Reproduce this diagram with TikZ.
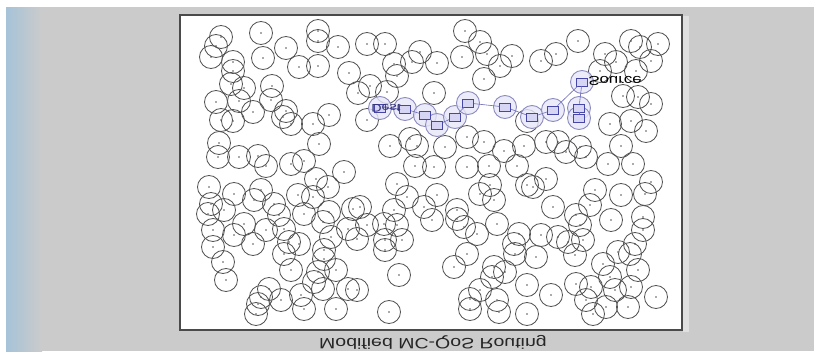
\documentclass[tikz,border=0pt]{standalone}
\usepackage{fontspec}
\setmainfont{Liberation Sans}
\definecolor{bggray}{HTML}{CBCBCB}
\definecolor{framec}{HTML}{4A4A4A}
\definecolor{sensc}{HTML}{555555}
\definecolor{routec}{HTML}{8C8CC0}
\definecolor{routefill}{HTML}{E6E6F8}
\definecolor{sqc}{HTML}{4646A8}
\definecolor{sqfill}{HTML}{D6D6F4}
\definecolor{stripblue}{HTML}{A6C3D8}
\tikzset{
  sensor/.style={circle,draw=sensc,line width=0.85pt,minimum size=23pt,inner sep=0pt},
  routecirc/.style={circle,draw=routec,fill=routefill,fill opacity=0.8,line width=0.9pt,minimum size=23pt,inner sep=0pt},
  sq/.style={rectangle,draw=sqc,fill=sqfill,line width=0.7pt,minimum width=11pt,minimum height=8pt,inner sep=0pt},
  link/.style={draw=sqc!80,line width=0.6pt},
  fliptext/.style={yscale=-1,xscale=1.3,inner sep=0pt}
}
\begin{document}
\begin{tikzpicture}[x=1pt,y=-1pt]
\useasboundingbox (0,0) rectangle (814,351);
% background
\fill[bggray] (0,0) rectangle (814,351);
\fill[white] (0,0) rectangle (814,7);
\fill[white] (0,0) rectangle (6,351);
\shade[left color=stripblue,right color=bggray] (6,7) rectangle (42,351);
\fill[white!40!bggray] (683,16) rectangle (689,332);
% frame
\draw[fill=white,draw=framec,line width=1.3pt] (180,15) rectangle (682,330);
% sensor nodes
\foreach \x/\y [count=\i] in {
221/37,261/33,216/46,318/31,318/41,338/47,286/48,211/57,233/62,263/58,
233/71,299/67,318/66,349/73,231/84,244/88,272/86,216/102,239/101,271/100,
253/112,286/111,283/117,221/120,233/121,291/124,313/124,329/115,219/143,319/144,
218/157,239/157,258/156,266/166,291/164,304/161,344/172,358/93,
385/44,367/44,465/31,480/42,420/52,394/64,412/62,437/63,462/57,487/54,
512/56,500/66,484/79,397/76,370/86,387/92,434/93,367/120,410/139,390/146,
417/146,445/147,467/137,484/142,504/151,524/146,415/166,434/167,467/167,489/166,
517/166,527/121,
578/41,556/54,541/61,605/54,616/62,631/41,640/47,658/44,651/61,636/71,
600/71,623/96,638/97,651/104,610/124,631/121,646/131,621/146,546/142,558/142,
566/152,580/147,586/157,608/164,633/164,
209/187,234/194,261/190,254/200,274/204,211/204,224/210,208/214,279/215,304/214,
298/195,313/197,316/179,328/187,329/212,323/222,353/209,244/224,266/230,213/230,
234/235,253/244,284/229,289/242,299/244,331/237,348/229,213/247,223/262,284/254,
324/250,324/259,291/270,318/272,336/270,226/280,314/282,269/289,261/297,281/300,
301/295,323/289,348/289,256/314,258/304,304/309,336/309,
397/184,407/197,437/195,360/207,394/210,424/207,457/210,480/194,494/200,490/185,
527/185,432/220,367/225,384/224,397/225,457/219,464/227,477/234,497/224,519/234,
357/239,385/240,402/240,385/250,514/244,515/254,467/254,454/267,494/267,505/272,
492/277,399/275,357/290,480/290,470/299,497/300,470/309,499/312,527/285,389/312,
527/314,
546/179,533/187,595/190,621/195,645/194,651/182,553/207,590/205,576/215,580/225,
611/220,643/217,643/230,541/235,558/237,568/242,583/240,575/255,536/257,618/252,
630/254,635/244,603/264,638/270,610/277,576/284,591/287,615/290,631/287,551/295,
586/300,606/307,628/307,656/297,593/314}
{
  \node[sensor] (s\i) at (\x,\y) {};
  \fill[sensc] (s\i.center) circle (0.8);
}
% route halos
\foreach \n/\x/\y in {r1/380/108,r2/405/109,r3/425/115,r4/437/125,r5/455/117,r6/468/103,r7/505/107,r8/532/117,r9/553/110,src/582/82,r10/579/108,r11/579/118}
{
  \node[routecirc] (h\n) at (\x,\y) {};
}
% route squares
\foreach \n/\x/\y in {r1/380/108,r2/405/109,r3/425/115,r4/437/125,r5/455/117,r6/468/103,r7/505/107,r8/532/117,r9/553/110,src/582/82,r10/579/108,r11/579/118}
{
  \node[sq] (\n) at (\x,\y) {};
}
% route links
\draw[link] (src) -- (r9);
\draw[link] (src) -- (r10);
\draw[link] (r10) -- (r11);
\draw[link] (r9) -- (r8);
\draw[link] (r8) -- (r7);
\draw[link] (r7) -- (r6);
\draw[link] (r6) -- (r5);
\draw[link] (r5) -- (r4);
\draw[link] (r4) -- (r3);
\draw[link] (r3) -- (r2);
\draw[link] (r2) -- (r1);
% labels (printed vertically mirrored)
\node[fliptext,font=\fontsize{13}{13}\selectfont,text=black,anchor=west] (srclabel) at (588,81) {Source};
\node[fliptext,font=\fontsize{11}{11}\selectfont,text=sqc!70!black] (destlabel) at (386,108) {Dest};
\node[fliptext,font=\fontsize{15}{15}\selectfont,text=black!85] (caption) at (433,342) {Modified MC-QoS Routing};
\end{tikzpicture}
\end{document}
